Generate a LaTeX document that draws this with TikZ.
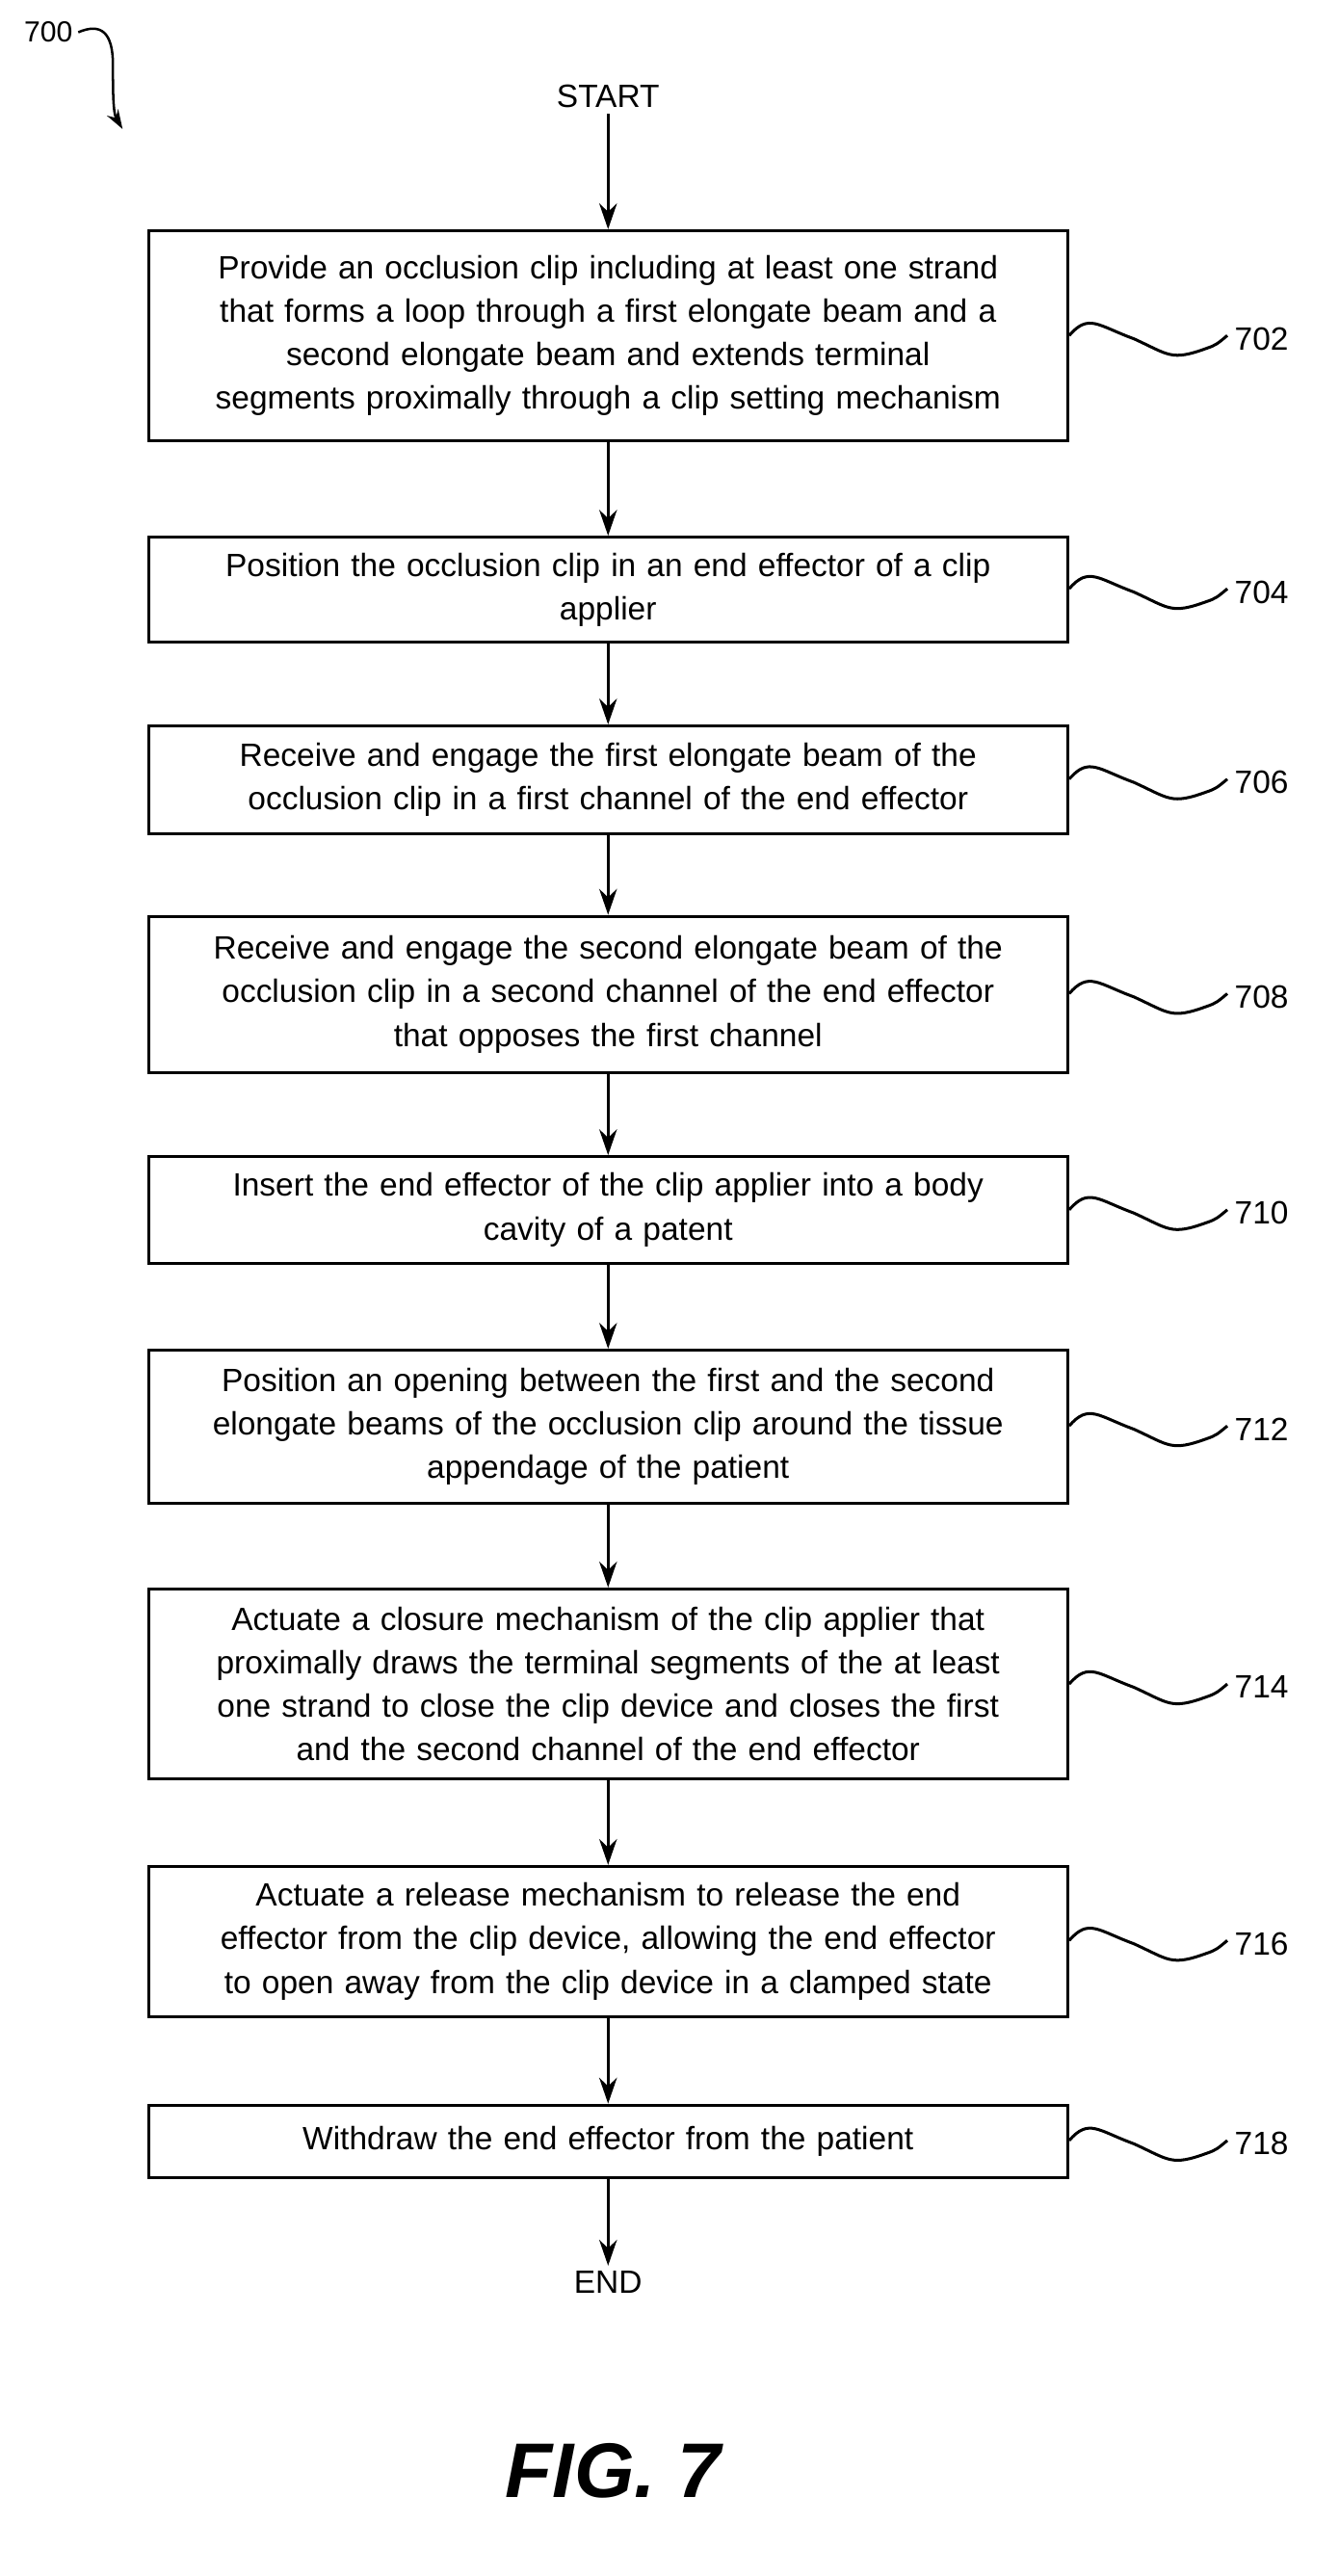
\documentclass[tikz,border=0pt]{standalone}
\usepackage{fontspec}
\setmainfont{Liberation Sans}
\usetikzlibrary{arrows.meta}
\begin{document}
\begin{tikzpicture}[x=1pt,y=1pt,
  box/.style={draw,line width=1.8pt,minimum width=570pt,text width=562pt,align=center,inner sep=3pt,font=\fontsize{20}{27}\selectfont},
  arr/.style={line width=1.5pt,-{Stealth[length=16pt,width=11pt]}},
  lab/.style={font=\fontsize{20}{23}\selectfont,anchor=west},
  sq/.style={line width=1.8pt}]
\useasboundingbox (0,0) rectangle (830,-1597);
\node[font=\fontsize{20}{23}\selectfont] (start) at (377,-60) {START};
\node[box,minimum height=130pt] (b702) at (377,-208) {Provide an occlusion clip including at least one strand\\that forms a loop through a first elongate beam and a\\second elongate beam and extends terminal\\segments proximally through a clip setting mechanism};
\node[box,minimum height=65pt] (b704) at (377,-365.5) {Position the occlusion clip in an end effector of a clip\\applier};
\node[box,minimum height=67pt] (b706) at (377,-483.5) {Receive and engage the first elongate beam of the\\occlusion clip in a first channel of the end effector};
\node[box,minimum height=97pt] (b708) at (377,-616.5) {Receive and engage the second elongate beam of the\\occlusion clip in a second channel of the end effector\\that opposes the first channel};
\node[box,minimum height=66pt] (b710) at (377,-750) {Insert the end effector of the clip applier into a body\\cavity of a patent};
\node[box,minimum height=95pt] (b712) at (377,-884.5) {Position an opening between the first and the second\\elongate beams of the occlusion clip around the tissue\\appendage of the patient};
\node[box,minimum height=118pt] (b714) at (377,-1044) {Actuate a closure mechanism of the clip applier that\\proximally draws the terminal segments of the at least\\one strand to close the clip device and closes the first\\and the second channel of the end effector};
\node[box,minimum height=93pt] (b716) at (377,-1203.5) {Actuate a release mechanism to release the end\\effector from the clip device, allowing the end effector\\to open away from the clip device in a clamped state};
\node[box,minimum height=45pt] (b718) at (377,-1327.5) {Withdraw the end effector from the patient};
\node[font=\fontsize{20}{23}\selectfont] (end) at (377,-1415) {END};
\node[font=\bfseries\itshape\fontsize{48}{52}\selectfont] (fig) at (380,-1532) {FIG. 7};
\draw[arr] (start) -- (b702);
\draw[arr] (b702) -- (b704);
\draw[arr] (b704) -- (b706);
\draw[arr] (b706) -- (b708);
\draw[arr] (b708) -- (b710);
\draw[arr] (b710) -- (b712);
\draw[arr] (b712) -- (b714);
\draw[arr] (b714) -- (b716);
\draw[arr] (b716) -- (b718);
\draw[arr] (b718) -- (end);
\foreach \n/\yc in {702/-208,704/-365,706/-483,708/-616,710/-750,712/-884,714/-1044,716/-1203,718/-1327}{
  \coordinate (s\n) at (b\n.east |- 0,\yc);
  \draw[sq] (s\n) .. controls +(12,14) and +(-22,8) .. +(40,-2) .. controls +(22,-10) and +(-22,-8) .. +(85,-8) .. controls +(6,2) and +(-6,-5) .. +(98,0) coordinate (e\n);
  \node[lab] (l\n) at ([xshift=1pt,yshift=-2pt]e\n) {\n};
}
\node[font=\fontsize{18}{20}\selectfont] (l700) at (30,-20) {700};
\coordinate (a700) at (76,-80);
\draw[line width=1.5pt,-{Stealth[length=12pt,width=8pt]}] (l700.east) .. controls +(14,6) and +(0,20) .. (70,-40) .. controls +(0,-15) and +(-6,10) .. (a700);
\end{tikzpicture}
\end{document}
